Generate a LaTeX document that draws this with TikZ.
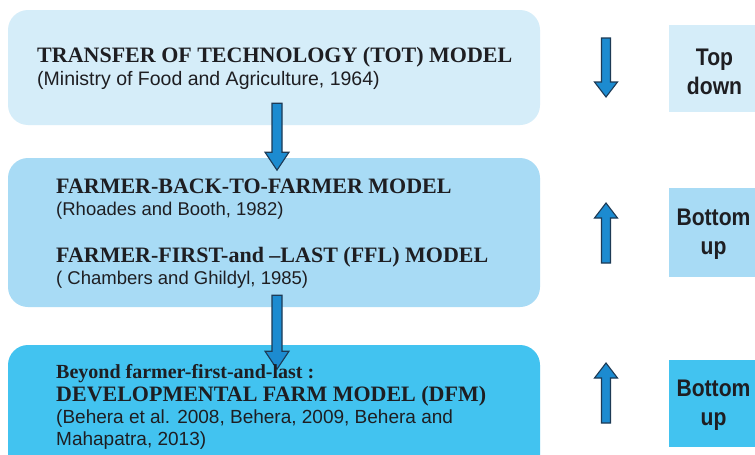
\documentclass[tikz,border=0pt]{standalone}
\usepackage{graphicx}
\usepackage{fontspec}
\setmainfont{Liberation Serif}
\setsansfont{Liberation Sans}
\definecolor{paleblue}{HTML}{D5EDF9}
\definecolor{midblue}{HTML}{A8DBF5}
\definecolor{deepblue}{HTML}{42C3F0}
\definecolor{arrowfill}{HTML}{1C8BD0}
\definecolor{arrowline}{HTML}{1D3A55}
\definecolor{ink}{HTML}{1E1E22}
% slightly condensed lettering for the direction tags
\newcommand\condensed[1]{\scalebox{0.88}[1]{#1}}
\tikzset{
  stage/.style={rounded corners=20pt, minimum width=532pt, inner sep=0pt},
  tagbox/.style={minimum width=91pt, inner sep=0pt},
  tag/.style={inner sep=0pt, align=center, text=ink,
    font=\sffamily\bfseries\fontsize{24}{29}\selectfont},
  title/.style={anchor=base west, inner sep=0pt, text=ink,
    font=\bfseries\fontsize{22}{26}\selectfont},
  subtitle/.style={anchor=base west, inner sep=0pt, text=ink,
    font=\bfseries\fontsize{20}{24}\selectfont},
  cite/.style={anchor=base west, inner sep=0pt, text=ink,
    font=\sffamily\fontsize{19}{23}\selectfont},
  arrowbody/.style={draw=arrowline, fill=arrowfill, line width=1.1pt, line join=miter},
  % block arrow pointing along +y of the picture (downwards), length #1
  bigarrow/.pic={
    \path[arrowbody] (-5,0) -- (-5,#1-18) -- (-12,#1-18) -- (0,#1)
      -- (12,#1-18) -- (5,#1-18) -- (5,0) -- cycle;
  },
  smallarrow/.pic={
    \path[arrowbody] (-4.5,0) -- (-4.5,#1-15) -- (-11.5,#1-15) -- (0,#1)
      -- (11.5,#1-15) -- (4.5,#1-15) -- (4.5,0) -- cycle;
  },
}
\begin{document}
\begin{tikzpicture}[x=1pt,y=-1pt]
  \useasboundingbox (0,0) rectangle (755,455);
  \fill[white] (0,0) rectangle (755,455);

  % the three model stages
  \node[stage, fill=paleblue, minimum height=115pt] (tot) at (274,67.5) {};
  \node[stage, fill=midblue, minimum height=149pt] (ffl) at (274,232.5) {};
  \node[stage, fill=deepblue, minimum height=150pt] (dfm) at (274,420) {};

  % flow between stages
  \pic at ([xshift=3pt,yshift=22pt]tot.south) {bigarrow=67};
  \pic at ([xshift=3pt,yshift=12pt]ffl.south) {bigarrow=74};

  % stage texts
  \node[title] (totname) at (37,62) {TRANSFER OF TECHNOLOGY (TOT) MODEL};
  \node[cite, font=\sffamily\fontsize{19.5}{24}\selectfont] (totref) at (37,85) {(Ministry of Food and Agriculture, 1964)};

  \node[title] (fbfname) at (56,193) {FARMER-BACK-TO-FARMER MODEL};
  \node[cite, font=\sffamily\fontsize{18.5}{23}\selectfont] (fbfref) at (56,215) {(Rhoades and Booth, 1982)};
  \node[title] (fflname) at (56,262) {FARMER-FIRST-and \textendash LAST (FFL) MODEL};
  \node[cite, font=\sffamily\fontsize{18.5}{23}\selectfont] (fflref) at (56,284) {( Chambers and Ghildyl, 1985)};

  \node[subtitle] (beyond) at (56,378) {Beyond farmer-first-and-last :};
  \node[title] (dfmname) at (56,401) {DEVELOPMENTAL FARM MODEL (DFM)};
  \node[cite] (dfmref) at (56,423) {(Behera et al. 2008, Behera, 2009, Behera and};
  \node[cite] (dfmref2) at (56,445) {Mahapatra, 2013)};

  % direction tags
  \node[tagbox, fill=paleblue, minimum height=87pt] (topbox) at (714.5,68.5) {};
  \node[tagbox, fill=midblue, minimum height=89pt] (upbox1) at (714.5,232.5) {};
  \node[tagbox, fill=deepblue, minimum height=87pt] (upbox2) at (714.5,403.5) {};
  \node[tag] (topdown) at ([yshift=-3pt]topbox.center) {\condensed{Top}\\\condensed{down}};
  \node[tag] (bottomup1) at ([xshift=-1pt,yshift=-2pt]upbox1.center) {\condensed{Bottom}\\\condensed{up}};
  \node[tag] (bottomup2) at ([xshift=-1pt,yshift=-2pt]upbox2.center) {\condensed{Bottom}\\\condensed{up}};

  % direction arrows
  \pic at (606,38) {smallarrow=59};
  \pic[rotate=180] at (606,263) {smallarrow=60};
  \pic[rotate=180] at (606,423) {smallarrow=60};
\end{tikzpicture}
\end{document}
